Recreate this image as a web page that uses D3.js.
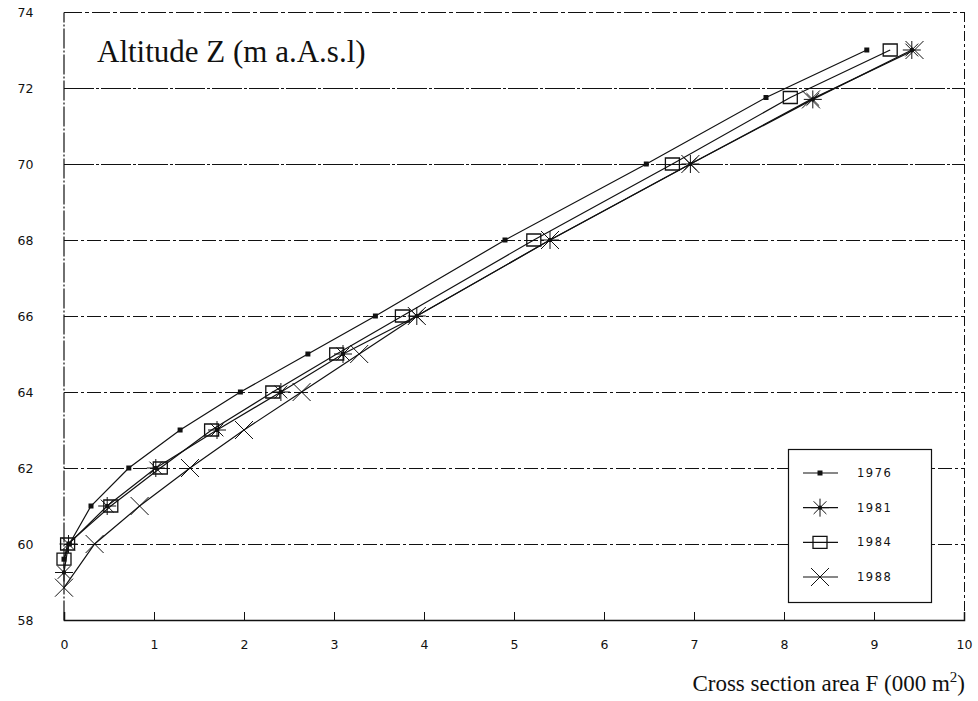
<!DOCTYPE html>
<html>
<head>
<meta charset="utf-8">
<script src="https://cdn.jsdelivr.net/npm/d3@7"></script>
<style>
  body { margin: 0; background: #fff; }
  svg { display: block; }
  .tick-label { font-family: "DejaVu Sans", sans-serif; font-size: 12.5px; fill: #111; }
  .serif { font-family: "Liberation Serif", "Times New Roman", serif; fill: #111; }
</style>
</head>
<body>
<svg id="chart" width="978" height="701"></svg>
<script>
// altitude levels (m a.A.s.l) and cross section areas (000 m2) per survey year
var years = ["1976", "1981", "1984", "1988"];

var z1976 = [59.6, 60, 61, 62, 63, 64, 65, 66, 68, 70, 71.75, 73];
var f1976 = [0.0, 0.06, 0.3, 0.72, 1.29, 1.96, 2.71, 3.46, 4.9, 6.47, 7.8, 8.92];

var z1981 = [59.25, 60, 61, 62, 63, 64, 65, 66, 68, 70, 71.7, 73];
var f1981 = [0.0, 0.05, 0.48, 1.02, 1.7, 2.41, 3.1, 3.92, 5.4, 6.96, 8.32, 9.42];

var z1984 = [59.6, 60, 61, 62, 63, 64, 65, 66, 68, 70, 71.75, 73];
var f1984 = [0.0, 0.04, 0.52, 1.07, 1.64, 2.32, 3.03, 3.76, 5.22, 6.76, 8.07, 9.18];

var z1988 = [58.85, 60, 61, 62, 63, 64, 65, 66, 68, 70, 71.7, 73];
var f1988 = [0.0, 0.34, 0.84, 1.4, 2.0, 2.64, 3.28, 3.92, 5.4, 6.96, 8.3, 9.45];

var xTicks = [0, 1, 2, 3, 4, 5, 6, 7, 8, 9, 10];
var yTicks = [58, 60, 62, 64, 66, 68, 70, 72, 74];
var gridLevels = [60, 62, 64, 66, 68, 70, 72];

var svg = d3.select("#chart");

var x = d3.scaleLinear().domain([0, 10]).range([64, 964]);
var y = d3.scaleLinear().domain([58, 74]).range([620, 12]);

// horizontal grid, dash-dot like the plotter output
svg.append("g")
  .selectAll("line")
  .data(gridLevels)
  .enter().append("line")
  .attr("x1", x(0)).attr("x2", x(10))
  .attr("y1", function(d) { return y(d) + 0.5; })
  .attr("y2", function(d) { return y(d) + 0.5; })
  .attr("stroke", "#111")
  .attr("stroke-width", 1)
  .attr("stroke-dasharray", function(d) { return d >= 70 ? "30,2,3,2" : "14,3,3,3"; });

// frame
svg.append("line")
  .attr("x1", x(0)).attr("x2", x(10)).attr("y1", y(74) + 0.5).attr("y2", y(74) + 0.5)
  .attr("stroke", "#111").attr("stroke-width", 1).attr("stroke-dasharray", "18,3,4,3");
svg.append("line")
  .attr("x1", x(10) + 0.5).attr("x2", x(10) + 0.5).attr("y1", y(74)).attr("y2", y(58))
  .attr("stroke", "#111").attr("stroke-width", 1).attr("stroke-dasharray", "10,3,3,3");

var xAxis = d3.axisBottom(x).tickValues(xTicks).tickSize(-8).tickPadding(20).tickFormat(d3.format("d"));
var gx = svg.append("g").attr("transform", "translate(0," + y(58) + ")").call(xAxis);
gx.select(".domain").attr("stroke", "#111").attr("stroke-width", 1.5);
gx.selectAll(".tick line").attr("stroke", "#111");
gx.selectAll(".tick text").attr("class", "tick-label").attr("fill", null);

var yAxis = d3.axisLeft(y).tickValues(yTicks).tickSize(0).tickPadding(30).tickFormat(d3.format("d"));
var gy = svg.append("g").attr("transform", "translate(" + (x(0) - 0.5) + ",0)").call(yAxis);
gy.select(".domain").attr("stroke", "#111").attr("stroke-width", 1.2).attr("stroke-dasharray", "20,2,2,2");
gy.selectAll(".tick text").attr("class", "tick-label").attr("fill", null);

// marker shapes
function squareSmall() { return "M-2.5,-2.5h5v5h-5z"; }
function boxPath() { return "M-7,-6h14v12h-14z"; }
function starPath() {
  var p = "";
  for (var i = 0; i < 4; i++) {
    var a = i * Math.PI / 4;
    var dx = 9 * Math.cos(a), dy = 9 * Math.sin(a);
    p += "M" + (-dx) + "," + (-dy) + "L" + dx + "," + dy;
  }
  return p;
}
function crossPath() { return "M-9,-9L9,9M-9,9L9,-9"; }

var series = [
  { name: years[0], f: f1976, z: z1976, mark: "dot" },
  { name: years[1], f: f1981, z: z1981, mark: "star" },
  { name: years[2], f: f1984, z: z1984, mark: "box" },
  { name: years[3], f: f1988, z: z1988, mark: "cross" }
];

var line = d3.line()
  .x(function(d) { return x(d[0]); })
  .y(function(d) { return y(d[1]); });

function drawMark(g, kind) {
  if (kind === "dot") {
    g.append("path").attr("d", squareSmall()).attr("fill", "#111");
  } else if (kind === "star") {
    g.append("path").attr("d", starPath()).attr("stroke", "#111").attr("stroke-width", 1).attr("fill", "none");
    g.append("circle").attr("r", 2.2).attr("fill", "#111");
  } else if (kind === "box") {
    g.append("path").attr("d", boxPath()).attr("stroke", "#111").attr("stroke-width", 1.3).attr("fill", "none");
  } else {
    g.append("path").attr("d", crossPath()).attr("stroke", "#111").attr("stroke-width", 1).attr("fill", "none");
  }
}

series.forEach(function(s) {
  var pts = s.f.map(function(v, i) { return [v, s.z[i]]; });
  svg.append("path")
    .datum(pts)
    .attr("d", line)
    .attr("fill", "none")
    .attr("stroke", "#111")
    .attr("stroke-width", 1.2);
  svg.append("g").selectAll("g")
    .data(pts)
    .enter().append("g")
    .attr("transform", function(d) { return "translate(" + x(d[0]) + "," + y(d[1]) + ")"; })
    .each(function() { drawMark(d3.select(this), s.mark); });
});

// legend
var legend = svg.append("g");
legend.append("rect")
  .attr("x", 788.5).attr("y", 449.5).attr("width", 143).attr("height", 153)
  .attr("fill", "#fff").attr("stroke", "#111").attr("stroke-width", 1.2);

var legendY = d3.scalePoint().domain(years).range([473, 577]);
series.forEach(function(s) {
  var g = legend.append("g").attr("transform", "translate(0," + legendY(s.name) + ")");
  g.append("line").attr("x1", 803).attr("x2", 838).attr("stroke", "#111").attr("stroke-width", 1.2);
  var m = g.append("g").attr("transform", "translate(820,0)");
  drawMark(m, s.mark);
  g.append("text").attr("class", "tick-label").attr("x", 857).attr("dy", "0.35em")
    .style("font-size", "11.5px").style("letter-spacing", "1.5px").text(s.name);
});

// titles
svg.append("text").attr("class", "serif")
  .attr("x", 97).attr("y", 62).style("font-size", "31px")
  .text("Altitude Z (m a.A.s.l)");

var xl = svg.append("text").attr("class", "serif")
  .attr("x", 965).attr("y", 691).attr("text-anchor", "end").style("font-size", "23px");
xl.append("tspan").text("Cross section area F (000 m");
xl.append("tspan").attr("dy", -9).style("font-size", "15px").text("2");
xl.append("tspan").attr("dy", 9).text(")");
</script>
</body>
</html>
